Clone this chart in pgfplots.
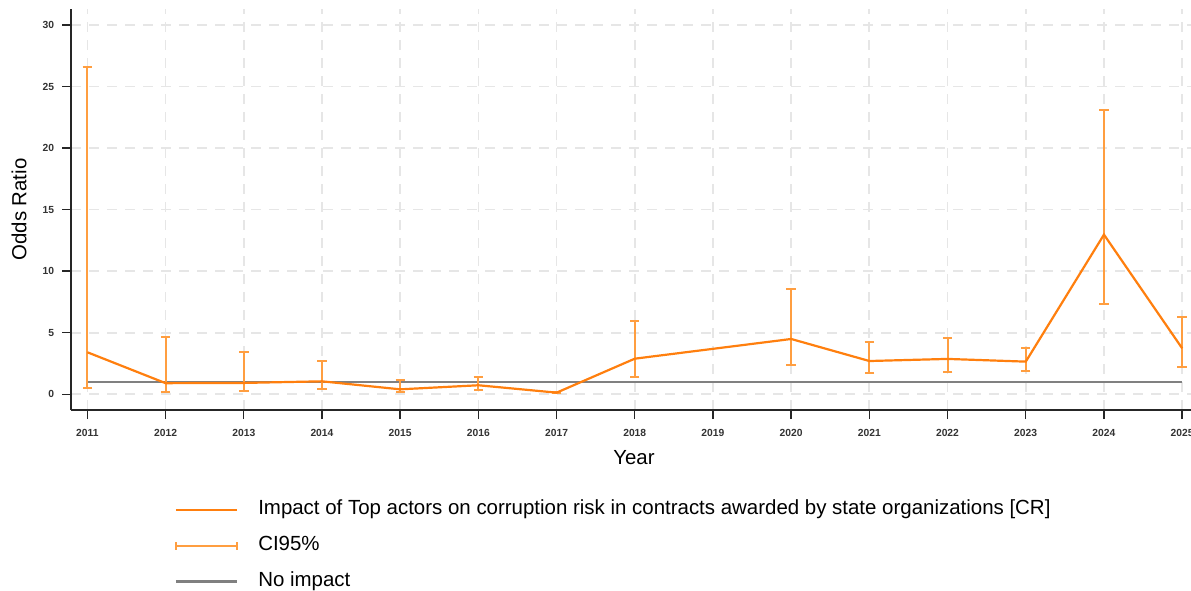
\documentclass[border=0pt]{standalone}
\usepackage{fontspec}
\setmainfont{Liberation Sans}
\usepackage{pgfplots}
\pgfplotsset{compat=1.18}
\usepackage{pgfplotstable}
\definecolor{mainorange}{RGB}{255,127,14}
\definecolor{ciorange}{RGB}{255,158,64}
\definecolor{noimp}{RGB}{128,128,128}
\definecolor{gridc}{RGB}{230,230,230}
\pgfplotstableread{
year y lo hi
2011 3.41 0.49 26.6
2012 0.90 0.21 4.68
2013 0.92 0.30 3.46
2014 1.05 0.46 2.73
2015 0.40 0.16 1.16
2016 0.73 0.37 1.38
2017 0.13 0.07 0.22
2018 2.89 1.43 5.93
2020 4.49 2.38 8.53
2021 2.70 1.73 4.22
2022 2.87 1.84 4.57
2023 2.65 1.89 3.79
2024 12.97 7.34 23.1
2025 3.73 2.19 6.31
}\ci
\begin{document}
\begin{tikzpicture}
\begin{axis}[
  at={(71pt,180pt)}, anchor=south west,
  scale only axis, width=1126pt, height=401pt,
  xmin=2010.79, xmax=2025.19, ymin=-1.28, ymax=31.3,
  axis x line*=bottom, axis y line*=left,
  axis line style={line width=1.5pt, color=black!85, -},
  xtick={2011,2012,...,2025}, ytick={0,5,...,30},
  tick align=outside, major tick length=9pt,
  tick style={line width=1.4pt, color=black!85},
  /pgf/number format/assume math mode=true,
  ticklabel style={font=\fontsize{10.3}{12}\selectfont\bfseries, color=black!80},
  xticklabel style={/pgf/number format/set thousands separator={}, yshift=-7pt},
  yticklabel style={xshift=-4.5pt},
  grid=major,
  major grid style={gridc, line width=1.7pt, dash pattern=on 10pt off 8pt},
  xlabel={Year}, ylabel={Odds Ratio},
  label style={font=\fontsize{20.4}{24}\selectfont},
  xlabel style={at={(axis description cs:0.5,-0.1185)}, anchor=center},
  ylabel style={at={(axis description cs:-0.0462,0.5)}, anchor=center},
  legend style={at={(axis description cs:0.0919,-0.227)}, anchor=north west,
    draw=none, fill=none, font=\fontsize{20.45}{24}\selectfont,
    inner sep=0pt, row sep=19pt, cells={anchor=west},
    nodes={inner sep=0pt, text height=13pt, text depth=4pt},
    /tikz/every odd column/.append style={column sep=20pt}},
]
\addplot[noimp, line width=2.6pt, forget plot] coordinates {(2011,1) (2025,1)};
\addplot[draw=none, mark=none, forget plot,
  error bars/.cd, y dir=both, y explicit,
  error bar style={draw=ciorange, line width=2pt, solid},
  error mark options={draw=ciorange, line width=2pt, mark size=4.7pt, rotate=90, solid}]
  table[x=year, y=y, y error plus expr=\thisrow{hi}-\thisrow{y}, y error minus expr=\thisrow{y}-\thisrow{lo}] {\ci};
\addplot[mainorange, line width=2.2pt, forget plot] table[x=year, y=y] {\ci};
\addlegendimage{legend image code/.code={\draw[mainorange, line width=2.2pt] (0pt,0pt) -- (61pt,0pt);}}
\addlegendentry{Impact of Top actors on corruption risk in contracts awarded by state organizations [CR]}
\addlegendimage{legend image code/.code={\draw[ciorange, line width=2pt] (0pt,0pt) -- (61pt,0pt); \draw[ciorange, line width=1.6pt] (0pt,-4pt) -- (0pt,4pt); \draw[ciorange, line width=1.6pt] (61pt,-4pt) -- (61pt,4pt);}}
\addlegendentry{CI95\%}
\addlegendimage{legend image code/.code={\draw[noimp, line width=2.6pt] (0pt,0pt) -- (61pt,0pt);}}
\addlegendentry{No impact}
\end{axis}
\pgfresetboundingbox
\path (0pt,0pt) rectangle (1191pt,590pt);
\end{tikzpicture}
\end{document}
